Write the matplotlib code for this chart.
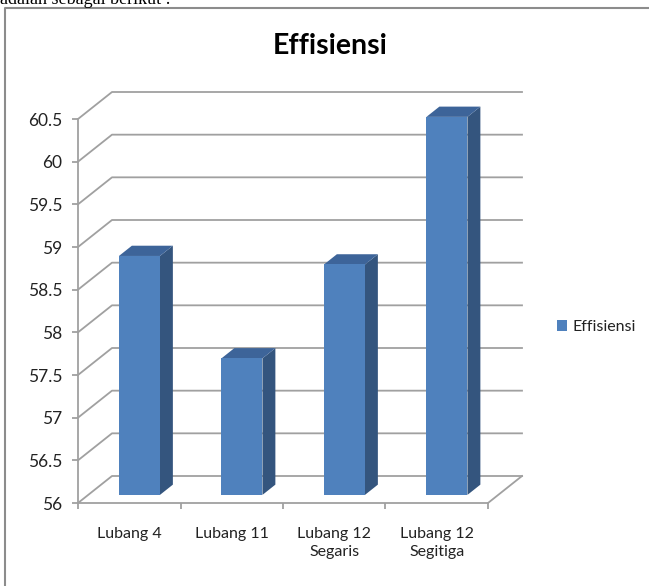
import numpy as np
import matplotlib
matplotlib.use("Agg")
import matplotlib.pyplot as plt
from matplotlib.patches import Polygon
from matplotlib.lines import Line2D
from matplotlib.transforms import IdentityTransform

# data
categories = ["Lubang 4", "Lubang 11", "Lubang 12\nSegaris", "Lubang 12\nSegitiga"]
effisiensi = [58.8, 57.6, 58.7, 60.43]
y_ticks = [56, 56.5, 57, 57.5, 58, 58.5, 59, 59.5, 60, 60.5]
y_labels = ["56", "56.5", "57", "57.5", "58", "58.5", "59", "59.5", "60", "60.5"]
series_name = "Effisiensi"

W, H = 649, 586
FRONT = "#4F81BD"
SIDE = "#34557E"
TOP = "#3D6499"
GRID = "#A0A0A0"
FONT = "Lato"

# oblique depth offset of the back wall, in pixels
DX, DY = 34, 27
D0, D1 = 0.30, 0.68   # bar depth span
BW = 0.4              # bar width in category units

fig = plt.figure(figsize=(W / 100, H / 100), dpi=100)
ax = fig.add_axes([78 / W, 1 - 503 / H, 410 / W, 384 / H])
ax.set_xlim(-0.5, len(categories) - 0.5)
ax.set_ylim(y_ticks[0], y_ticks[-1])
ax.patch.set_visible(False)
for s in ["top", "right"]:
    ax.spines[s].set_visible(False)
for s in ["left", "bottom"]:
    ax.spines[s].set_color(GRID)
    ax.spines[s].set_linewidth(1.3)

ax.set_yticks(y_ticks)
ax.set_yticklabels(y_labels, fontsize=12.5, family=FONT, color="#222222")
ax.set_xticks(range(len(categories)))
ax.set_xticklabels(categories, fontsize=11.5, family=FONT, color="#222222",
                   linespacing=1.4)
ax.set_xticks(np.arange(-0.5, len(categories)), minor=True)
ax.tick_params(axis="y", length=4.3, width=1.3, color=GRID, pad=7)
ax.tick_params(axis="x", which="major", length=0, pad=17)
ax.tick_params(axis="x", which="minor", length=4.3, width=1.3, color=GRID)

x0, x1 = -0.5, len(categories) - 0.5
ymin = y_ticks[0]


def proj(x, v, d):
    p = ax.transData.transform((x, v))
    return (p[0] + d * DX, p[1] + d * DY)


ident = IdentityTransform()

# side wall + back wall gridlines
for v in y_ticks:
    pts = np.array([proj(x0, v, 0), proj(x0, v, 1), proj(x1, v, 1)])
    ax.add_line(Line2D(pts[:, 0], pts[:, 1], color=GRID, lw=1.3,
                       transform=ident, clip_on=False, zorder=1))

# floor right edge
pts = np.array([proj(x1, ymin, 0), proj(x1, ymin, 1)])
ax.add_line(Line2D(pts[:, 0], pts[:, 1], color=GRID, lw=1.3,
                   transform=ident, clip_on=False, zorder=1))

# bars
for i, v in enumerate(effisiensi):
    xl, xr = i - BW / 2, i + BW / 2
    front = [proj(xl, ymin, D0), proj(xr, ymin, D0), proj(xr, v, D0), proj(xl, v, D0)]
    side = [proj(xr, ymin, D0), proj(xr, ymin, D1), proj(xr, v, D1), proj(xr, v, D0)]
    top = [proj(xl, v, D0), proj(xr, v, D0), proj(xr, v, D1), proj(xl, v, D1)]
    ax.add_patch(Polygon(side, closed=True, fc=SIDE, ec="none",
                         transform=ident, clip_on=False, zorder=3))
    ax.add_patch(Polygon(top, closed=True, fc=TOP, ec="none",
                         transform=ident, clip_on=False, zorder=3))
    ax.add_patch(Polygon(front, closed=True, fc=FRONT, ec="none",
                         transform=ident, clip_on=False, zorder=3,
                         label=series_name if i == 0 else None))

leg = ax.legend(loc="center left", bbox_to_anchor=(557 / W, 1 - 327 / H),
                bbox_transform=fig.transFigure, frameon=False,
                prop={"family": FONT, "size": 11.5}, handlelength=0.65,
                handleheight=0.65, handletextpad=0.35, borderpad=0,
                borderaxespad=0)
for t in leg.get_texts():
    t.set_color("#222222")

# title
fig.text(330 / W, 1 - 54 / H, "Effisiensi", ha="center", va="baseline",
         fontsize=20.5, fontweight="bold", family=FONT)

# chart frame (continues past the right and bottom edges)
fig.add_artist(Line2D([5 / W, 5 / W, 1.0], [0.0, 1 - 8 / H, 1 - 8 / H],
                      color="#8C8C8C", lw=1.5, transform=fig.transFigure))

# surrounding document text, cut off at the top as in the reference
fig.text(0 / W, 1 - 4 / H, "adalah sebagai berikut :", ha="left", va="baseline",
         fontsize=13, family="Liberation Serif")

fig.savefig("out.png", dpi=100)
